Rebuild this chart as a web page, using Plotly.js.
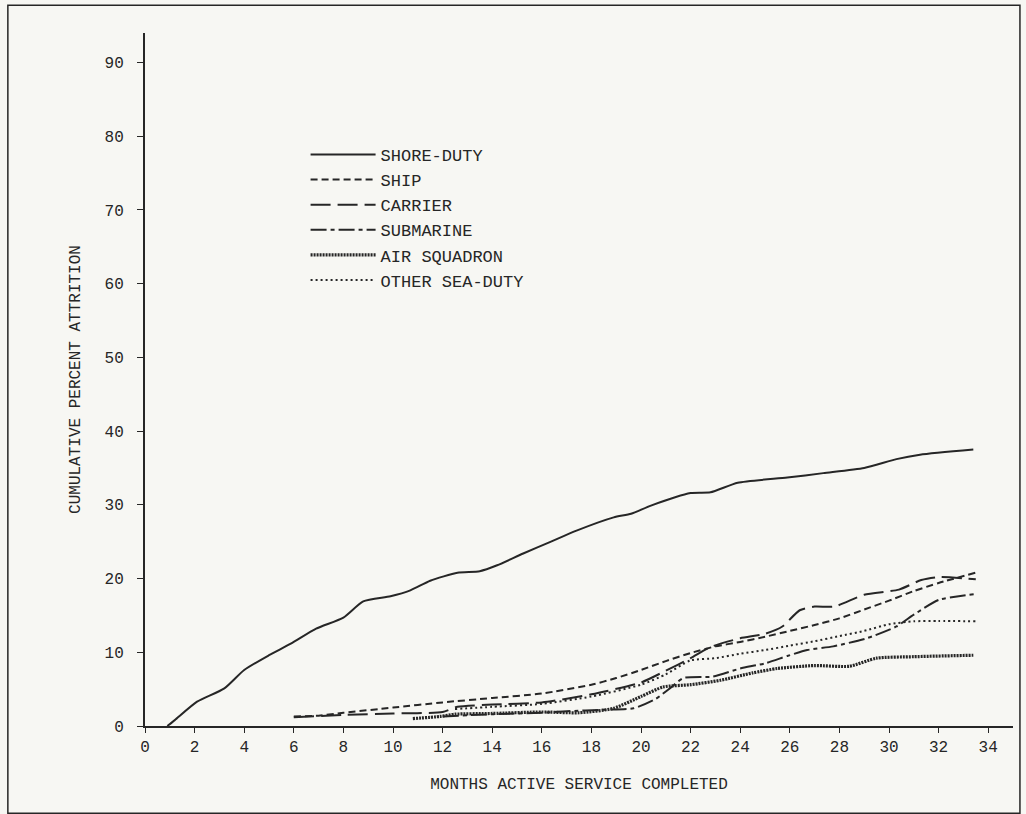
<!DOCTYPE html>
<html>
<head>
<meta charset="utf-8">
<script src="https://cdn.plot.ly/plotly-3.0.1.min.js"></script>
<style>
  html, body { margin: 0; padding: 0; background: #f7f7f3; }
  #chart { width: 1026px; height: 814px; }
</style>
</head>
<body>
<div id="chart"></div>
<script>
// Series names
const seriesNames = ["SHORE-DUTY", "SHIP", "CARRIER", "SUBMARINE", "AIR SQUADRON", "OTHER SEA-DUTY"];

// SHORE-DUTY
const shoreX = [0.9, 1.2, 2.1, 3.2, 4.0, 5.0, 5.9, 6.9, 8.0, 8.8, 9.9, 10.7, 11.5, 12.6, 13.5, 14.2, 15.25, 16.3, 17.4, 18.9, 19.6, 20.4, 22.0, 22.8, 23.9, 25.9, 27.35, 29.0, 30.3, 31.25, 33.4];
const shoreY = [0.0, 0.8, 3.3, 5.1, 7.6, 9.6, 11.2, 13.2, 14.7, 16.9, 17.6, 18.4, 19.7, 20.8, 21.0, 21.8, 23.4, 24.9, 26.5, 28.3, 28.8, 29.9, 31.6, 31.7, 33.0, 33.7, 34.3, 35.0, 36.2, 36.8, 37.5];

// SHIP
const shipX = [6, 7, 8, 10, 12, 14, 16, 18, 19, 20, 21, 22, 23, 24, 25, 26, 27, 28, 29, 30, 31, 32, 33.5];
const shipY = [1.3, 1.4, 1.8, 2.5, 3.2, 3.8, 4.4, 5.6, 6.5, 7.6, 8.8, 9.9, 10.8, 11.4, 12.1, 12.9, 13.7, 14.6, 15.8, 17.0, 18.3, 19.4, 20.8];

// CARRIER
const carrierX = [6, 8, 10, 12, 12.6, 14, 16, 18, 20, 21, 22, 22.8, 24, 25, 25.7, 26.4, 27, 27.8, 29, 30.4, 31.3, 32, 33.5];
const carrierY = [1.2, 1.5, 1.7, 1.9, 2.6, 2.9, 3.2, 4.3, 5.9, 7.5, 9.2, 10.7, 11.9, 12.5, 13.5, 15.7, 16.2, 16.2, 17.8, 18.5, 19.8, 20.2, 19.9];

// SUBMARINE
const subX = [12, 14, 16, 17, 18.5, 19.7, 20.6, 21.2, 21.7, 22.9, 24, 25, 25.9, 26.7, 27.75, 29.1, 30.3, 31, 32, 33.5];
const subY = [1.3, 1.6, 1.8, 2.0, 2.2, 2.4, 3.7, 5.2, 6.5, 6.7, 7.8, 8.5, 9.5, 10.3, 10.8, 11.9, 13.5, 15.1, 17.1, 17.9];

// AIR SQUADRON
const airX = [10.8, 11.9, 12.5, 14, 16, 17.5, 18.9, 20, 20.9, 22, 23.2, 24.5, 25.5, 27, 28.4, 29.5, 31, 33.4];
const airY = [1.0, 1.3, 1.6, 1.7, 1.9, 1.8, 2.4, 4.0, 5.3, 5.6, 6.2, 7.2, 7.8, 8.2, 8.1, 9.2, 9.4, 9.6];

// OTHER SEA-DUTY
const otherX = [12.5, 14, 16, 18, 20, 21, 22, 23, 24, 25, 26, 27, 28, 29, 30, 31, 32, 33.5];
const otherY = [2.3, 2.6, 3.0, 4.0, 5.6, 7.0, 8.9, 9.2, 9.8, 10.3, 10.9, 11.5, 12.2, 12.9, 13.8, 14.2, 14.25, 14.2];

// Axis ticks
const xTicks = [0, 2, 4, 6, 8, 10, 12, 14, 16, 18, 20, 22, 24, 26, 28, 30, 32, 34];
const yTicks = [0, 10, 20, 30, 40, 50, 60, 70, 80, 90];

const ink = "#262626";
const mono = "Liberation Mono, DejaVu Sans Mono, monospace";

const xs = [shoreX, shipX, carrierX, subX, airX, otherX];
const ys = [shoreY, shipY, carrierY, subY, airY, otherY];
const dashes = ["solid", "7px,4px", "20px,7px", "16px,4px,4px,4px", "2px,1px", "2px,3px"];
const widths = [2, 2, 2, 2, 3.2, 2];

const traces = seriesNames.map((name, i) => ({
  type: "scatter",
  mode: "lines",
  name: name,
  x: xs[i],
  y: ys[i],
  line: { color: ink, width: widths[i], dash: dashes[i], shape: "spline", smoothing: 0.6 }
}));

const layout = {
  width: 1026,
  height: 814,
  paper_bgcolor: "#f7f7f3",
  plot_bgcolor: "#f7f7f3",
  margin: { l: 145, r: 13, t: 33, b: 88 },
  font: { family: mono, color: ink, size: 16 },
  showlegend: true,
  legend: {
    x: 0.185, y: 0.85, xanchor: "left", yanchor: "top",
    bgcolor: "rgba(0,0,0,0)",
    font: { family: mono, size: 17, color: ink },
    itemwidth: 65,
    traceorder: "normal"
  },
  xaxis: {
    range: [0, 35],
    tickvals: xTicks,
    ticktext: xTicks.map(String),
    ticks: "outside",
    ticklen: 5,
    tickcolor: ink,
    showline: true,
    linecolor: ink,
    linewidth: 2,
    showgrid: false,
    zeroline: false,
    tickfont: { family: mono, size: 16, color: ink },
    title: { text: "MONTHS ACTIVE SERVICE COMPLETED", font: { family: mono, size: 16, color: ink }, standoff: 22 }
  },
  yaxis: {
    range: [0, 94],
    tickvals: yTicks,
    ticktext: yTicks.map(String),
    ticks: "outside",
    ticklen: 6,
    tickcolor: ink,
    ticklabelstandoff: 10,
    showline: true,
    linecolor: ink,
    linewidth: 2,
    showgrid: false,
    zeroline: false,
    tickfont: { family: mono, size: 16, color: ink },
    title: { text: "CUMULATIVE PERCENT ATTRITION", font: { family: mono, size: 16, color: ink }, standoff: 20 }
  },
  shapes: [
    { type: "rect", xref: "paper", yref: "paper", x0: -0.158, x1: 1.008, y0: -0.126, y1: 1.04,
      line: { color: ink, width: 1.5 }, fillcolor: "rgba(0,0,0,0)" }
  ]
};

Plotly.newPlot("chart", traces, layout, { displayModeBar: false, staticPlot: true });
</script>
</body>
</html>
